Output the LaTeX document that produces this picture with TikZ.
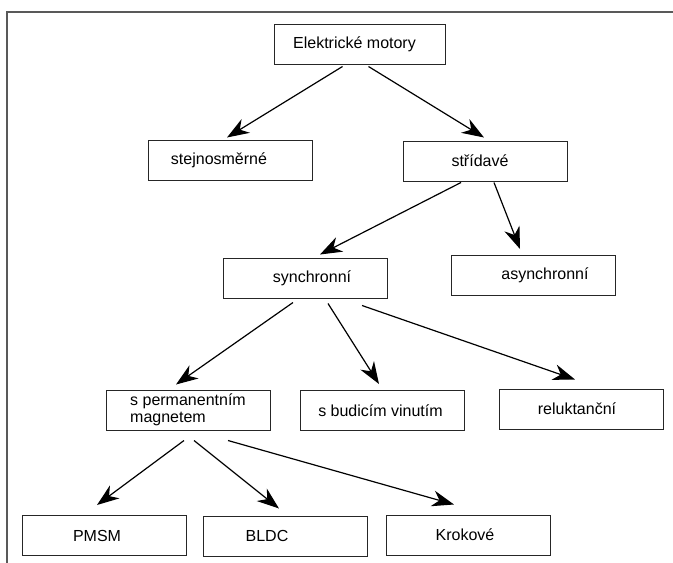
\documentclass[tikz,border=0pt]{standalone}
\usepackage{fontspec}
\setmainfont{Liberation Sans}
\usepackage{tikz}
\usetikzlibrary{arrows.meta,calc}

\begin{document}
\begin{tikzpicture}[x=1pt, y=-1pt,
        box/.style={draw=black!85, line width=1pt, minimum width=164pt, minimum height=40pt, inner sep=0pt,
                    font=\fontsize{16pt}{17pt}\selectfont},
        arr/.style={line width=1.2pt, -{Stealth[length=22pt, width=16pt, inset=7pt]}}]
            \useasboundingbox (0, 0) rectangle (673, 563);
            \draw[black!65, line width=1.6pt] (7, 563) -- (7, 12) -- (673, 12);
            %
            \node[box, minimum width=171pt] (elek) at (359.5, 44) {Elektrické motory\hspace*{10pt}};
            \node[box] (stej) at (230, 160) {stejnosměrné\hspace*{22pt}};
            \node[box] (strid) at (485, 161) {střídavé\hspace*{10pt}};
            %
            \node[box] (sync) at (305, 278) {\hspace*{14pt}synchronní};
            \node[box] (async) at (533.5, 275.5) {\hspace*{23pt}asynchronní};
            %
            \node[box, align=left] (sperm) at (188, 410) {s permanentním\\magnetem\hspace*{6pt}};
            \node[box] (sbud) at (382, 410.5) {s budicím vinutím\hspace*{3pt}};
            \node[box] (relu) at (581, 409) {reluktanční\hspace*{8pt}};
            %
            \node[box] (pmsm) at (104, 535.5) {PMSM\hspace*{14pt}};
            \node[box] (bldc) at (285, 536) {BLDC\hspace*{36pt}};
            \node[box] (krok) at (468, 535) {Krokové\hspace*{6pt}};
            %
            \draw[arr] ($(elek.south)+(-17, 2)$) -- ($(stej.north)+(-3, -2)$);
            \draw[arr] ($(elek.south)+(9, 2)$) -- ($(strid.north)+(-1, -3)$);
            %
            \draw[arr] ($(strid.south)+(-24, 1)$) -- ($(sync.north)+(15, -3)$);
            \draw[arr] ($(strid.south)+(9, 1)$) -- ($(async.north)+(-13.5, -6)$);
            %
            \draw[arr] ($(sync.south)+(-12, 4)$) -- ($(sperm.north)+(-12, -5)$);
            \draw[arr] ($(sync.south)+(23, 5)$) -- ($(sbud.north)+(-3, -6)$);
            \draw[arr] ($(sync.south)+(57, 7)$) -- ($(relu.north)+(-6, -9)$);
            %
            \draw[arr] ($(sperm.south)+(-4, 10)$) -- ($(pmsm.north)+(-7, -10)$);
            \draw[arr] ($(sperm.south)+(6, 10)$) -- ($(bldc.north)+(-6, -7)$);
            \draw[arr] ($(sperm.south)+(40, 10)$) -- ($(krok.north)+(-14, -10)$);
        \end{tikzpicture}
\end{document}
